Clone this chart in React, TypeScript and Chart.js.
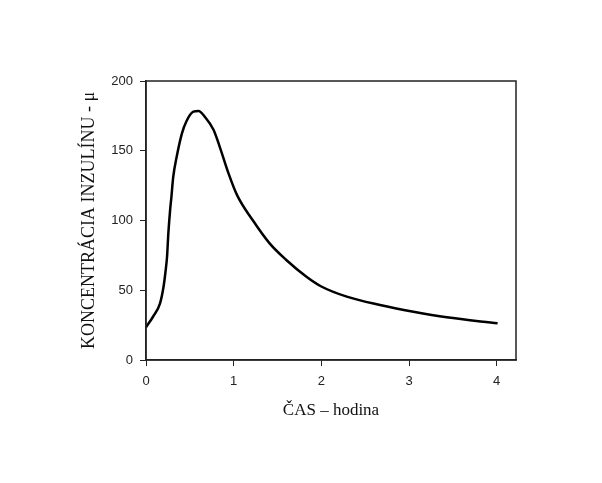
import React, { useEffect, useRef } from "react";
import { Chart, registerables } from "chart.js";

Chart.register(...registerables);

const timeHours = [0, 0.08, 0.16, 0.2, 0.22, 0.24, 0.255, 0.275, 0.29, 0.31, 0.35, 0.41, 0.46, 0.54, 0.6, 0.67, 0.77, 0.84, 0.94, 1.04, 1.22, 1.41, 1.6, 1.83, 2.0, 2.29, 2.67, 3.05, 3.43, 4.01];
const insulin = [23.5, 31, 40.6, 52.5, 62, 74, 91, 107.5, 117, 131, 145.7, 162.5, 171, 178, 178.5, 174.4, 165, 153, 134, 118, 100, 83.6, 71.7, 59.7, 52.7, 45.4, 39.4, 34.6, 30.6, 26.3];
const yTicks = [0, 50, 100, 150, 200];
const xTicks = [0, 1, 2, 3, 4];
const xTitle = "ČAS – hodina";
const yTitle = "KONCENTRÁCIA INZULÍNU - μ";

const frame = {
  id: "frame",
  afterDraw(chart: any) {
    const { ctx, chartArea } = chart;
    ctx.save();
    ctx.strokeStyle = "#222";
    ctx.lineWidth = 1.5;
    ctx.strokeRect(chartArea.left, chartArea.top, chartArea.right - chartArea.left, chartArea.bottom - chartArea.top);
    ctx.restore();
  },
};

export default function App() {
  const ref = useRef<HTMLCanvasElement | null>(null);
  useEffect(() => {
    document.body.style.margin = "0";
    const chart = new Chart(ref.current!, {
      type: "line",
      data: {
        datasets: [
          {
            data: timeHours.map((t, i) => ({ x: t, y: insulin[i] })),
            borderColor: "#000",
            borderWidth: 2.5,
            pointRadius: 0,
            cubicInterpolationMode: "monotone",
            fill: false,
          },
        ],
      },
      options: {
        responsive: false,
        animation: false,
        layout: { padding: { left: 78, top: 81, right: 86, bottom: 58 } },
        plugins: { legend: { display: false }, tooltip: { enabled: false } },
        scales: {
          x: {
            type: "linear",
            min: 0,
            max: 4.22,
            afterBuildTicks: (s: any) => { s.ticks = xTicks.map((v) => ({ value: v })); },
            afterFit: (s: any) => { s.height = 65; },
            ticks: { color: "#222", font: { family: "Liberation Sans", size: 13 }, padding: 8 },
            grid: { drawOnChartArea: false, drawTicks: true, tickLength: 6, color: "#222" },
            border: { color: "#222", width: 1.5 },
            title: { display: true, text: xTitle, color: "#111", font: { family: "Liberation Serif", size: 17 }, padding: { top: 4 } },
          },
          y: {
            min: 0,
            max: 200,
            afterBuildTicks: (s: any) => { s.ticks = yTicks.map((v) => ({ value: v })); },
            afterFit: (s: any) => { s.width = 68; },
            ticks: { color: "#222", font: { family: "Liberation Sans", size: 13 }, padding: 7 },
            grid: { drawOnChartArea: false, drawTicks: true, tickLength: 6, color: "#222" },
            border: { color: "#222", width: 1.5 },
            title: { display: true, text: yTitle, color: "#111", font: { family: "Liberation Serif", size: 18 }, padding: 0 },
          },
        },
      },
      plugins: [frame],
    });
    return () => chart.destroy();
  }, []);
  return <canvas ref={ref} width={602} height={483} style={{ display: "block" }} />;
}
